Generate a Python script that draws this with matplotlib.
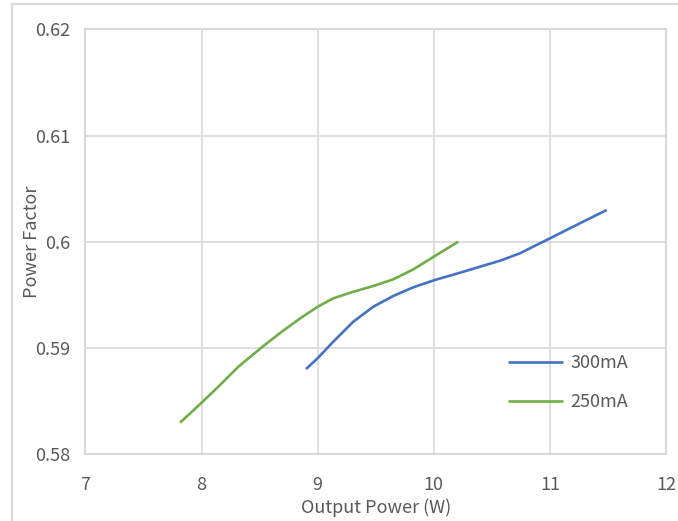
import matplotlib
matplotlib.use('Agg')
import matplotlib.pyplot as plt
from matplotlib.lines import Line2D
from matplotlib.ticker import FuncFormatter

plt.rcParams['font.family'] = ['Noto Sans CJK SC', 'DejaVu Sans']

# 300mA curve
power_300 = [8.899, 8.997, 9.134, 9.307, 9.479, 9.651, 9.824, 10.01, 10.226,
             10.398, 10.57, 10.742, 10.915, 11.001, 11.173, 11.345, 11.489]
pf_300 = [0.5880, 0.5890, 0.59058, 0.59247, 0.59388, 0.59489, 0.59571, 0.5964, 0.59708,
          0.59765, 0.59821, 0.59891, 0.59986, 0.60032, 0.60127, 0.60221, 0.60299]

# 250mA curve
power_250 = [7.814, 7.995, 8.144, 8.316, 8.518, 8.69, 8.862, 9.005, 9.134,
             9.307, 9.479, 9.651, 9.824, 10.01, 10.211]
pf_250 = [0.58295, 0.58478, 0.58634, 0.58822, 0.59005, 0.59152, 0.59288, 0.59391, 0.59467,
          0.59529, 0.59583, 0.59646, 0.5974, 0.59866, 0.60001]

labels = ['300mA', '250mA']
x_ticks = [7, 8, 9, 10, 11, 12]
y_ticks = [0.58, 0.59, 0.60, 0.61, 0.62]

txt = '#595959'
grid = '#D9D9D9'

fig = plt.figure(figsize=(6.78, 5.21), dpi=100)
ax = fig.add_axes([0.1261, 0.1286, 0.8562, 0.8148])

ax.plot(power_300, pf_300, color='#4472C4', lw=1.9, label=labels[0],
        solid_capstyle='butt', solid_joinstyle='round')
ax.plot(power_250, pf_250, color='#70AD47', lw=1.9, label=labels[1],
        solid_capstyle='butt', solid_joinstyle='round')

ax.set_xlim(7, 12)
ax.set_ylim(0.58, 0.62)
ax.set_xticks(x_ticks)
ax.set_yticks(y_ticks)
ax.yaxis.set_major_formatter(FuncFormatter(lambda v, p: '{:g}'.format(round(v, 2))))
ax.grid(True, color=grid, lw=1.2)
ax.set_axisbelow(True)
for s in ax.spines.values():
    s.set_color(grid)
    s.set_linewidth(1.5)
ax.tick_params(length=0, labelsize=13, labelcolor=txt)
ax.tick_params(axis='y', pad=11)
ax.tick_params(axis='x', pad=16)

ax.set_xlabel('Output Power (W)', fontsize=13, color=txt, labelpad=3)
ax.set_ylabel('Power Factor', fontsize=13, color=txt)
ax.yaxis.set_label_coords(-0.077, 0.5)

ax.legend(loc='center left', bbox_to_anchor=(0.716, 0.168), frameon=False,
          fontsize=13, labelcolor=txt, handlelength=3.05, handletextpad=0.4,
          labelspacing=1.15, borderaxespad=0)

# outer chart border (top and left edges visible)
fig.add_artist(Line2D([12 / 678, 1], [1 - 4 / 521, 1 - 4 / 521], transform=fig.transFigure,
                      color=grid, lw=1.5))
fig.add_artist(Line2D([12 / 678, 12 / 678], [0, 1 - 4 / 521], transform=fig.transFigure,
                      color=grid, lw=1.5))

fig.savefig('out.png', dpi=100)
